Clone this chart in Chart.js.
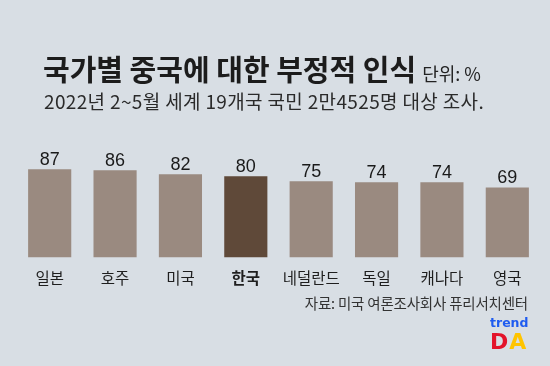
<!DOCTYPE html>
<html><head><meta charset="utf-8">
<script src="https://cdn.jsdelivr.net/npm/chart.js@4/dist/chart.umd.min.js"></script>
<style>
html,body{margin:0;padding:0;background:#d8dee4;width:550px;height:366px;overflow:hidden;font-family:"Noto Sans CJK KR",sans-serif;}
#wrap{position:absolute;left:0;top:0;width:550px;height:366px;}
.t{position:absolute;white-space:nowrap;color:#222;line-height:normal;}
#title{left:43px;top:47px;font-size:29px;font-weight:700;letter-spacing:0;color:#1c1c1c;}
#unit{font-size:18px;font-weight:400;letter-spacing:0;margin-left:6px;color:#222;}
#sub{left:44px;top:87px;font-size:19px;letter-spacing:0.35px;color:#2a2a2a;}
#src{right:22px;top:292px;font-size:14.5px;color:#333;letter-spacing:-0.2px;}
#logo1{left:490px;top:315px;font-family:"DejaVu Sans",sans-serif;font-weight:700;font-size:12.5px;color:#1e5bf0;}
#logo2{left:490px;top:329px;font-family:"DejaVu Sans",sans-serif;font-weight:700;font-size:22px;letter-spacing:1px;}
</style></head>
<body>
<div id="wrap"><canvas id="c" width="550" height="366"></canvas></div>
<div class="t" id="title">국가별 중국에 대한 부정적 인식<span id="unit">단위: %</span></div>
<div class="t" id="sub">2022년 2~5월 세계 19개국 국민 2만4525명 대상 조사.</div>
<div class="t" id="src">자료: 미국 여론조사회사 퓨리서치센터</div>
<div class="t" id="logo1">trend</div>
<div class="t" id="logo2"><span style="color:#e3132a">D</span><span style="color:#ffc400">A</span></div>
<script>
const categories = ["일본","호주","미국","한국","네덜란드","독일","캐나다","영국"];
const values = [87,86,82,80,75,74,74,69];
const highlight = "한국";
const baseColor = "#9a8a80";
const hiColor = "#5f4939";

const valueLabels = {
  id:'valueLabels',
  afterDatasetsDraw(chart){
    const ctx = chart.ctx;
    const meta = chart.getDatasetMeta(0);
    ctx.save();
    ctx.font = '18px "Liberation Sans", Arial, sans-serif';
    ctx.fillStyle = '#1a1a1a';
    ctx.textAlign = 'center';
    ctx.textBaseline = 'alphabetic';
    meta.data.forEach((bar,i)=>{
      ctx.fillText(String(values[i]), bar.x, bar.y - 4);
    });
    ctx.restore();
  }
};

new Chart(document.getElementById('c'),{
  type:'bar',
  data:{labels:categories,datasets:[{
    data:values,
    backgroundColor:categories.map(c=>c===highlight?hiColor:baseColor),
    borderWidth:0,
    barPercentage:0.66,
    categoryPercentage:1
  }]},
  options:{
    responsive:false,
    animation:false,
    devicePixelRatio:1,
    layout:{padding:{left:17,right:10,top:156,bottom:76}},
    plugins:{legend:{display:false},tooltip:{enabled:false},title:{display:false}},
    scales:{
      x:{
        grid:{display:false},
        border:{display:false},
        ticks:{
          padding:3,
          color:'#1e1e1e',
          maxRotation:0,
          autoSkip:false,
          font:(ctx)=>({family:'"Noto Sans CJK KR", sans-serif',size:15.5,weight:(categories[ctx.index]===highlight?'700':'400')})
        }
      },
      y:{display:false,min:0,max:100}
    }
  },
  plugins:[valueLabels]
});
</script>
</body></html>
